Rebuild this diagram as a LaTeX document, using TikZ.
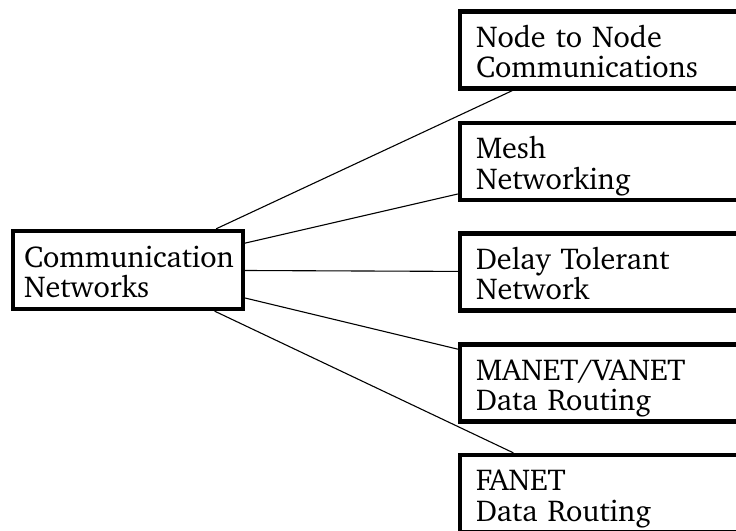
\documentclass[tikz,border=0pt]{standalone}
\usepackage[T1]{fontenc}
\usepackage{charter}
\newcommand\boxtext[2]{\rule{0pt}{32pt}#1\\#2\rule[-7pt]{0pt}{7pt}}
\begin{document}
\begin{tikzpicture}[x=1pt,y=-1pt,
  box/.style={draw=black, line width=4.3pt, rectangle, align=left, inner ysep=0pt,
    font=\fontsize{30.2}{30.8}\selectfont},
  leftbox/.style={box, minimum width=230pt, minimum height=78pt, inner xsep=11pt, text width=208pt},
  rightbox/.style={box, minimum width=278pt, minimum height=77pt, inner xsep=16pt, text width=246pt},
  link/.style={draw=black, line width=1.1pt}]
\path[use as bounding box, clip] (0,0) rectangle (736,530);
\fill[white] (0,0) rectangle (736,530);
\node[leftbox] (L) at (128,270) {\boxtext{Communication}{Networks}};
\node[rightbox] (R1) at (599,50) {\boxtext{Node to Node}{Communications}};
\node[rightbox] (R2) at (599,161.5) {\boxtext{Mesh}{Networking}};
\node[rightbox] (R3) at (599,272) {\boxtext{Delay Tolerant}{Network}};
\node[rightbox] (R4) at (599,383) {\boxtext{MANET/VANET}{Data Routing}};
\node[rightbox] (R5) at (599,493.5) {\boxtext{FANET}{Data Routing}};
\foreach \r in {R1,R2,R3,R4,R5} \draw[link] (L) -- (\r);
\end{tikzpicture}
\end{document}
